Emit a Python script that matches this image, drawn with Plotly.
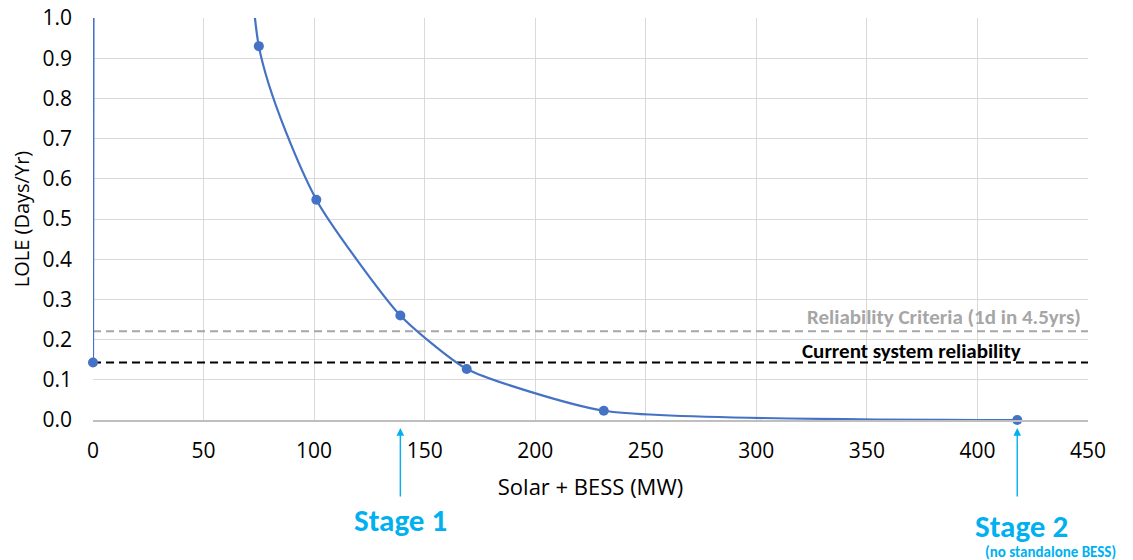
import plotly.graph_objects as go

# Data (Solar + BESS MW vs LOLE days/yr). Second point is an off-scale value implied by the curve.
solar_bess_mw = [0, 5, 75, 101, 139, 169, 231, 418]
lole_days = [0.143, 20.0, 0.93, 0.548, 0.26, 0.127, 0.023, 0.0]

reliability_criteria = 0.221
current_reliability = 0.143
stage1_mw = 139
stage2_mw = 418

x_ticks = [0, 50, 100, 150, 200, 250, 300, 350, 400, 450]
y_ticks = [0.0, 0.1, 0.2, 0.3, 0.4, 0.5, 0.6, 0.7, 0.8, 0.9, 1.0]

AXFONT = "'Open Sans', 'Noto Sans', sans-serif"
FONT = "Calibri, Carlito, 'Noto Sans', sans-serif"
BLUE = "#4472c4"
CYAN = "#00b0f0"

fig = go.Figure()

# dashed reference lines
fig.add_trace(go.Scatter(x=[0, 450], y=[reliability_criteria] * 2, mode="lines",
                         line=dict(color="#a6a6a6", width=2, dash="8px,5px"), hoverinfo="skip"))
fig.add_trace(go.Scatter(x=[0, 450], y=[current_reliability] * 2, mode="lines",
                         line=dict(color="#000000", width=2, dash="8px,5px"), hoverinfo="skip"))

# curve
fig.add_trace(go.Scatter(x=solar_bess_mw, y=lole_days, mode="lines",
                         line=dict(color=BLUE, width=2.2, shape="spline", smoothing=0.55),
                         cliponaxis=True))
# markers (only on-scale ones)
vis = [(x, y) for x, y in zip(solar_bess_mw, lole_days) if y <= 1.0]
fig.add_trace(go.Scatter(x=[v[0] for v in vis], y=[v[1] for v in vis], mode="markers",
                         marker=dict(color=BLUE, size=10), cliponaxis=False))

fig.add_annotation(x=450, y=reliability_criteria, xref="x", yref="y", text="<b>Reliability Criteria (1d in 4.5yrs)</b>",
                   showarrow=False, xanchor="right", yanchor="middle", xshift=-5, yshift=14,
                   font=dict(family=FONT, size=21, color="#a6a6a6"))
fig.add_annotation(x=319.7, y=current_reliability, xref="x", yref="y", text="<b>Current system reliability</b>",
                   showarrow=False, xanchor="left", yanchor="middle", yshift=12,
                   font=dict(family=FONT, size=21, color="#000000"))

# stage arrows
for xs in (stage1_mw, stage2_mw):
    fig.add_annotation(x=xs, y=-0.02, xref="x", yref="paper", ax=0, ay=70,
                       text="", showarrow=True, arrowhead=2, arrowsize=1.1, arrowwidth=1.4, arrowcolor=CYAN)

fig.add_annotation(x=stage1_mw, y=-0.249, xref="x", yref="paper", text="<b>Stage 1</b>", showarrow=False,
                   xanchor="center", yanchor="middle", font=dict(family=FONT, size=31, color=CYAN))
fig.add_annotation(x=stage2_mw + 2, y=-0.264, xref="x", yref="paper", text="<b>Stage 2</b>", showarrow=False,
                   xanchor="center", yanchor="middle", font=dict(family=FONT, size=31, color=CYAN))
fig.add_annotation(x=stage2_mw + 15, y=-0.329, xref="x", yref="paper", text="<b>(no standalone BESS)</b>",
                   showarrow=False, xanchor="center", yanchor="middle", font=dict(family=FONT, size=15, color=CYAN))

fig.update_layout(
    width=1125, height=552,
    margin=dict(l=85, r=45, t=10, b=140, autoexpand=False),
    plot_bgcolor="white", paper_bgcolor="white",
    showlegend=False,
    font=dict(family=AXFONT, size=18, color="#000000"),
)
fig.update_xaxes(range=[0, 450], tickvals=x_ticks, ticktext=[str(v) for v in x_ticks],
                 showgrid=True, gridcolor="#d9d9d9", gridwidth=1, zeroline=False,
                 showline=True, linecolor="#bfbfbf", linewidth=1.5, ticks="", automargin=False,
                 ticklabelstandoff=11, ticklabeloverflow="allow",
                 tickfont=dict(family=AXFONT, size=21), title=dict(text="Solar + BESS (MW)", font=dict(family=AXFONT, size=22), standoff=17))
fig.update_yaxes(range=[0, 1.0], tickvals=y_ticks, ticktext=[f"{v:.1f}" for v in y_ticks],
                 showgrid=True, gridcolor="#d9d9d9", gridwidth=1, zeroline=False,
                 showline=False, ticks="", automargin=False, ticklabelstandoff=20, ticklabeloverflow="allow",
                 tickfont=dict(family=AXFONT, size=21),
                 title=dict(text="LOLE (Days/Yr)", font=dict(family=AXFONT, size=20), standoff=8))

fig.write_html("out.html")
